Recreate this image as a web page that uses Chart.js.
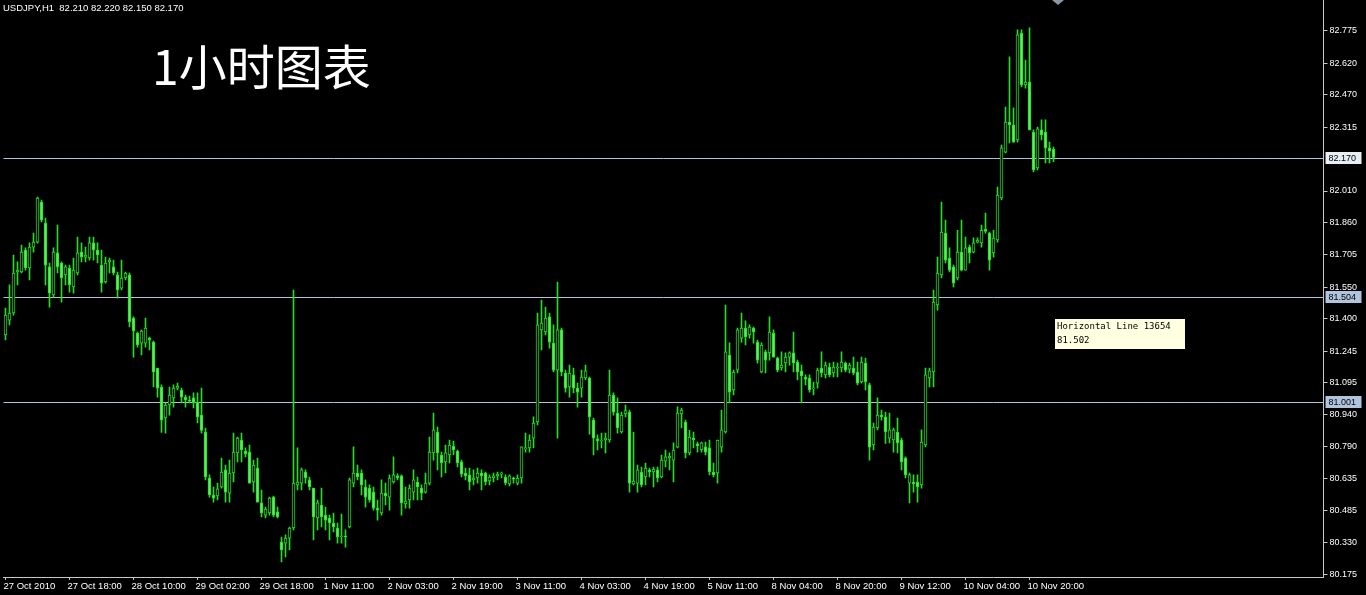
<!DOCTYPE html>
<html>
<head>
<meta charset="utf-8">
<script src="https://cdn.jsdelivr.net/npm/chart.js@4.4.1/dist/chart.umd.min.js"></script>
<style>
html, body { margin: 0; padding: 0; background: #000; overflow: hidden; }
#wrap { position: relative; width: 1366px; height: 595px; }
</style>
</head>
<body>
<div id="wrap"><canvas id="mtChart"></canvas></div>
<script>
// USDJPY H1 candles (one value per hour bar)
const opens = [
  81.322, 81.393, 81.427, 81.623, 81.623, 81.728, 81.642, 81.742, 81.766, 81.957,
  81.857, 81.647, 81.513, 81.714, 81.666, 81.609, 81.642, 81.551, 81.618, 81.718,
  81.694, 81.690, 81.762, 81.728, 81.656, 81.575, 81.671, 81.647, 81.609, 81.546,
  81.594, 81.609, 81.403, 81.331, 81.283, 81.283, 81.307, 81.288, 81.164, 81.073,
  80.925, 80.987, 81.021, 81.068, 81.059, 81.025, 81.011, 81.021, 81.001, 80.939,
  80.858, 80.638, 80.557, 80.552, 80.595, 80.677, 80.566, 80.662, 80.758, 80.820,
  80.767, 80.762, 80.619, 80.686, 80.519, 80.461, 80.471, 80.547, 80.476, 80.332,
  80.327, 80.351, 80.399, 80.605, 80.614, 80.667, 80.629, 80.590, 80.447, 80.509,
  80.461, 80.447, 80.423, 80.399, 80.356, 80.361, 80.404, 80.614, 80.662, 80.662,
  80.595, 80.590, 80.571, 80.494, 80.471, 80.566, 80.547, 80.619, 80.648, 80.648,
  80.514, 80.533, 80.571, 80.619, 80.590, 80.571, 80.614, 80.758, 80.858, 80.748,
  80.715, 80.748, 80.791, 80.767, 80.715, 80.662, 80.653, 80.629, 80.638, 80.662,
  80.662, 80.624, 80.638, 80.648, 80.657, 80.643, 80.610, 80.638, 80.614, 80.638,
  80.777, 80.782, 80.829, 80.906, 81.346, 81.336, 81.408, 81.283, 81.154, 81.346,
  81.140, 81.073, 81.131, 81.068, 81.068, 81.116, 81.116, 80.915, 80.825, 80.815,
  80.820, 80.820, 81.035, 80.949, 80.858, 80.944, 80.953, 80.610, 80.614, 80.667,
  80.643, 80.677, 80.667, 80.677, 80.643, 80.719, 80.734, 80.724, 80.786, 80.944,
  80.906, 80.758, 80.829, 80.801, 80.772, 80.787, 80.782, 80.667, 80.662, 80.786,
  80.858, 81.226, 81.059, 81.154, 81.307, 81.355, 81.322, 81.355, 81.288, 81.145,
  81.241, 81.236, 81.331, 81.211, 81.164, 81.188, 81.216, 81.236, 81.192, 81.150,
  81.121, 81.116, 81.064, 81.092, 81.164, 81.131, 81.168, 81.140, 81.164, 81.164,
  81.188, 81.159, 81.164, 81.145, 81.097, 81.188, 81.083, 80.796, 80.877, 80.939,
  80.930, 80.829, 80.820, 80.858, 80.820, 80.734, 80.614, 80.619, 80.619, 80.605,
  80.796, 81.116, 81.145, 81.465, 81.609, 81.809, 81.690, 81.647, 81.594, 81.718,
  81.632, 81.742, 81.718, 81.766, 81.762, 81.827, 81.809, 81.714, 81.776, 81.977,
  82.196, 82.340, 82.326, 82.254, 82.765, 82.517, 82.531, 82.292, 82.120, 82.302,
  82.292, 82.216, 82.210
];
const highs = [
  81.451, 81.561, 81.704, 81.671, 81.752, 81.738, 81.762, 81.809, 81.981, 81.967,
  81.881, 81.666, 81.738, 81.847, 81.671, 81.656, 81.656, 81.690, 81.790, 81.762,
  81.742, 81.790, 81.790, 81.762, 81.728, 81.694, 81.690, 81.680, 81.623, 81.680,
  81.623, 81.618, 81.408, 81.336, 81.346, 81.403, 81.312, 81.293, 81.164, 81.083,
  80.997, 81.073, 81.083, 81.092, 81.068, 81.035, 81.030, 81.045, 81.045, 81.068,
  80.877, 80.653, 80.595, 80.614, 80.734, 80.700, 80.724, 80.853, 80.834, 80.853,
  80.782, 80.796, 80.724, 80.734, 80.581, 80.499, 80.547, 80.552, 80.499, 80.356,
  80.366, 80.404, 81.537, 80.782, 80.686, 80.677, 80.643, 80.590, 80.533, 80.590,
  80.499, 80.461, 80.471, 80.423, 80.466, 80.390, 80.638, 80.787, 80.700, 80.677,
  80.629, 80.605, 80.595, 80.533, 80.629, 80.614, 80.653, 80.739, 80.658, 80.653,
  80.595, 80.605, 80.677, 80.643, 80.605, 80.662, 80.834, 80.949, 80.882, 80.762,
  80.796, 80.820, 80.815, 80.772, 80.724, 80.686, 80.686, 80.677, 80.686, 80.677,
  80.667, 80.653, 80.662, 80.667, 80.667, 80.653, 80.653, 80.643, 80.653, 80.787,
  80.853, 80.844, 80.930, 81.427, 81.489, 81.455, 81.427, 81.370, 81.575, 81.355,
  81.154, 81.178, 81.164, 81.092, 81.154, 81.178, 81.121, 80.925, 80.844, 80.853,
  80.853, 81.154, 81.045, 81.021, 80.953, 80.987, 80.963, 80.858, 80.700, 80.691,
  80.710, 80.686, 80.691, 80.691, 80.748, 80.772, 80.758, 80.806, 80.978, 80.973,
  80.915, 80.866, 80.858, 80.810, 80.810, 80.810, 80.820, 80.710, 80.820, 80.963,
  81.465, 81.284, 81.154, 81.355, 81.427, 81.389, 81.370, 81.360, 81.298, 81.284,
  81.250, 81.408, 81.346, 81.216, 81.241, 81.236, 81.241, 81.336, 81.202, 81.178,
  81.131, 81.131, 81.097, 81.164, 81.241, 81.192, 81.188, 81.192, 81.188, 81.241,
  81.192, 81.188, 81.216, 81.192, 81.216, 81.211, 81.092, 80.901, 81.021, 80.963,
  80.953, 80.949, 80.877, 80.925, 80.829, 80.739, 80.662, 80.653, 80.653, 80.868,
  81.164, 81.164, 81.537, 81.694, 81.957, 81.871, 81.738, 81.656, 81.822, 81.871,
  81.790, 81.752, 81.786, 81.786, 81.847, 81.905, 81.814, 81.822, 82.029, 82.230,
  82.411, 82.651, 82.407, 82.780, 82.780, 82.636, 82.790, 82.302, 82.316, 82.350,
  82.350, 82.244, 82.220
];
const lows = [
  81.298, 81.370, 81.417, 81.561, 81.618, 81.632, 81.585, 81.718, 81.761, 81.862,
  81.561, 81.455, 81.503, 81.618, 81.479, 81.561, 81.527, 81.522, 81.609, 81.671,
  81.671, 81.680, 81.680, 81.666, 81.527, 81.570, 81.618, 81.609, 81.498, 81.537,
  81.585, 81.360, 81.216, 81.264, 81.226, 81.264, 81.250, 81.073, 81.025, 80.856,
  80.853, 80.939, 80.977, 81.059, 80.997, 80.977, 80.997, 80.973, 80.901, 80.853,
  80.629, 80.547, 80.523, 80.533, 80.590, 80.523, 80.523, 80.619, 80.715, 80.715,
  80.739, 80.614, 80.571, 80.523, 80.452, 80.447, 80.461, 80.452, 80.447, 80.237,
  80.261, 80.294, 80.390, 80.581, 80.581, 80.614, 80.581, 80.342, 80.390, 80.404,
  80.390, 80.342, 80.380, 80.327, 80.327, 80.308, 80.399, 80.595, 80.629, 80.557,
  80.499, 80.523, 80.485, 80.437, 80.461, 80.509, 80.485, 80.614, 80.629, 80.461,
  80.494, 80.494, 80.533, 80.533, 80.533, 80.566, 80.605, 80.724, 80.677, 80.643,
  80.662, 80.710, 80.748, 80.691, 80.643, 80.629, 80.581, 80.605, 80.614, 80.581,
  80.605, 80.605, 80.619, 80.629, 80.638, 80.605, 80.600, 80.614, 80.605, 80.614,
  80.762, 80.762, 80.782, 80.892, 81.250, 81.322, 81.259, 81.145, 80.829, 81.126,
  81.049, 81.025, 81.045, 80.977, 81.025, 81.107, 80.848, 80.748, 80.772, 80.782,
  80.758, 80.810, 80.939, 80.853, 80.853, 80.930, 80.571, 80.605, 80.571, 80.595,
  80.605, 80.643, 80.595, 80.619, 80.638, 80.691, 80.677, 80.619, 80.782, 80.877,
  80.734, 80.748, 80.782, 80.762, 80.762, 80.748, 80.653, 80.643, 80.614, 80.762,
  80.853, 80.997, 81.035, 81.140, 81.288, 81.274, 81.307, 81.283, 81.187, 81.140,
  81.140, 81.202, 81.216, 81.145, 81.154, 81.145, 81.178, 81.145, 81.107, 80.997,
  81.083, 81.049, 81.035, 81.068, 81.121, 81.116, 81.121, 81.121, 81.121, 81.145,
  81.145, 81.140, 81.131, 81.083, 81.092, 81.059, 80.724, 80.772, 80.868, 80.915,
  80.804, 80.806, 80.762, 80.758, 80.677, 80.638, 80.519, 80.571, 80.523, 80.590,
  80.787, 81.073, 81.073, 81.441, 81.594, 81.666, 81.623, 81.551, 81.585, 81.628,
  81.632, 81.666, 81.714, 81.762, 81.742, 81.809, 81.632, 81.694, 81.766, 81.967,
  82.192, 82.240, 82.244, 82.244, 82.507, 82.502, 82.302, 82.101, 82.111, 82.254,
  82.144, 82.144, 82.150
];
const closes = [
  81.417, 81.427, 81.618, 81.632, 81.718, 81.642, 81.742, 81.766, 81.976, 81.871,
  81.656, 81.522, 81.718, 81.647, 81.594, 81.647, 81.561, 81.632, 81.714, 81.694,
  81.704, 81.762, 81.728, 81.704, 81.570, 81.666, 81.680, 81.618, 81.537, 81.594,
  81.618, 81.384, 81.341, 81.274, 81.341, 81.355, 81.298, 81.145, 81.068, 80.915,
  80.987, 81.035, 81.068, 81.078, 81.025, 81.011, 81.006, 80.997, 80.930, 80.866,
  80.643, 80.557, 80.542, 80.586, 80.667, 80.571, 80.662, 80.762, 80.829, 80.772,
  80.753, 80.614, 80.700, 80.523, 80.471, 80.490, 80.542, 80.461, 80.452, 80.294,
  80.351, 80.399, 80.614, 80.619, 80.677, 80.638, 80.595, 80.452, 80.519, 80.452,
  80.437, 80.423, 80.404, 80.356, 80.361, 80.356, 80.629, 80.662, 80.643, 80.605,
  80.547, 80.533, 80.494, 80.485, 80.566, 80.552, 80.638, 80.653, 80.638, 80.519,
  80.528, 80.590, 80.629, 80.595, 80.566, 80.614, 80.762, 80.868, 80.758, 80.710,
  80.758, 80.796, 80.772, 80.710, 80.657, 80.648, 80.619, 80.638, 80.662, 80.648,
  80.619, 80.643, 80.648, 80.657, 80.662, 80.615, 80.648, 80.633, 80.638, 80.787,
  80.782, 80.820, 80.901, 81.370, 81.379, 81.403, 81.288, 81.154, 81.346, 81.145,
  81.068, 81.140, 81.068, 81.049, 81.121, 81.150, 80.930, 80.829, 80.815, 80.820,
  80.829, 81.035, 80.953, 80.877, 80.939, 80.960, 80.614, 80.624, 80.677, 80.605,
  80.686, 80.667, 80.681, 80.638, 80.724, 80.739, 80.743, 80.772, 80.949, 80.963,
  80.758, 80.834, 80.820, 80.791, 80.806, 80.762, 80.667, 80.653, 80.820, 80.868,
  81.241, 81.049, 81.145, 81.346, 81.355, 81.312, 81.360, 81.336, 81.202, 81.274,
  81.202, 81.336, 81.216, 81.154, 81.178, 81.216, 81.236, 81.188, 81.145, 81.126,
  81.111, 81.059, 81.068, 81.154, 81.140, 81.178, 81.131, 81.168, 81.168, 81.192,
  81.154, 81.178, 81.140, 81.092, 81.192, 81.097, 80.786, 80.882, 80.939, 80.930,
  80.858, 80.868, 80.868, 80.806, 80.715, 80.653, 80.653, 80.610, 80.595, 80.810,
  81.131, 81.150, 81.479, 81.618, 81.814, 81.680, 81.632, 81.570, 81.718, 81.632,
  81.738, 81.714, 81.762, 81.776, 81.822, 81.817, 81.680, 81.785, 81.991, 82.216,
  82.340, 82.326, 82.244, 82.756, 82.517, 82.531, 82.302, 82.111, 82.307, 82.278,
  82.216, 82.201, 82.170
];

// one tick label every 16 hour bars
const tickLabels = [
  '27 Oct 2010', '27 Oct 18:00', '28 Oct 10:00', '29 Oct 02:00', '29 Oct 18:00',
  '1 Nov 11:00', '2 Nov 03:00', '2 Nov 19:00', '3 Nov 11:00', '4 Nov 03:00',
  '4 Nov 19:00', '5 Nov 11:00', '8 Nov 04:00', '8 Nov 20:00', '9 Nov 12:00',
  '10 Nov 04:00', '10 Nov 20:00'
];
const tickStep = 16;
const slotCount = 330; // visible bar slots incl. empty space on the right

const priceTicks = [
  82.775, 82.620, 82.470, 82.315, 82.010, 81.860, 81.705, 81.550, 81.400,
  81.245, 81.095, 80.940, 80.790, 80.635, 80.485, 80.330, 80.175
];
const priceMin = 80.165;
const priceMax = 82.923;

// horizontal lines: bid line + two user lines
const hLines = [82.170, 81.504, 81.001];
const hLineTags = ['82.170', '81.504', '81.001'];

const slotLabels = Array.from({ length: slotCount }, (_, i) =>
  i % tickStep === 0 && tickLabels[i / tickStep] ? tickLabels[i / tickStep] : '');

const GREEN = '#22dd22';
const BEAR_FILL = '#5cee5c';
const AXIS = '#c8c8c8';

const mtPlugin = {
  id: 'mtDecor',
  beforeDatasetsDraw(chart) {
    const { ctx, chartArea, scales } = chart;
    ctx.save();
    ctx.strokeStyle = '#b0c4de';
    ctx.lineWidth = 1;
    hLines.forEach(v => {
      const y = Math.round(scales.y.getPixelForValue(v)) + 0.5;
      ctx.beginPath();
      ctx.moveTo(chartArea.left, y);
      ctx.lineTo(chartArea.right, y);
      ctx.stroke();
    });
    ctx.restore();
  },
  afterDraw(chart) {
    const { ctx, chartArea, scales } = chart;
    ctx.save();
    // price tags on the right axis
    ctx.font = '9px "Liberation Sans", Arial, sans-serif';
    ctx.textBaseline = 'middle';
    hLines.forEach((v, k) => {
      const y = Math.round(scales.y.getPixelForValue(v));
      ctx.fillStyle = k === 0 ? '#e8eef5' : '#b0c4de';
      ctx.fillRect(chartArea.right + 2, y - 6, 36, 12);
      ctx.fillStyle = '#000';
      ctx.textAlign = 'left';
      ctx.fillText(hLineTags[k], chartArea.right + 5, y + 0.5);
    });

    // symbol header
    ctx.fillStyle = '#ffffff';
    ctx.font = '9.5px "Liberation Sans", Arial, sans-serif';
    ctx.textBaseline = 'alphabetic';
    ctx.fillText('USDJPY,H1  82.210 82.220 82.150 82.170', 3, 11);

    // title
    ctx.font = '48px "Noto Sans CJK SC", sans-serif';
    ctx.fillText('1小时图表', 152, 85);

    // object tooltip
    ctx.fillStyle = '#ffffe1';
    ctx.fillRect(1055, 319, 130, 30);
    ctx.fillStyle = '#000';
    ctx.font = '9px "DejaVu Sans Mono", monospace';
    ctx.fillText('Horizontal Line 13654', 1057, 329);
    ctx.fillText('81.502', 1057, 343);

    // small marker at the top edge
    ctx.fillStyle = '#8a96a6';
    ctx.beginPath();
    ctx.moveTo(1052, 0);
    ctx.lineTo(1064, 0);
    ctx.lineTo(1058, 5);
    ctx.closePath();
    ctx.fill();
    ctx.restore();
  }
};

const ctx = document.getElementById('mtChart').getContext('2d');
const mtChart = new Chart(ctx, {
  type: 'bar',
  data: {
    labels: slotLabels,
    datasets: [
      {
        // candle bodies (drawn on top)
        data: opens.map((o, i) => [o, closes[i]]),
        backgroundColor: opens.map((o, i) => closes[i] >= o ? '#000000' : BEAR_FILL),
        borderColor: GREEN,
        borderWidth: 1,
        borderSkipped: false,
        barThickness: 3,
        minBarLength: 1,
        grouped: false
      },
      {
        // high-low wicks
        data: lows.map((l, i) => [l, highs[i]]),
        backgroundColor: GREEN,
        borderWidth: 0,
        barThickness: 1,
        grouped: false
      }
    ]
  },
  options: {
    responsive: true,
    maintainAspectRatio: false,
    animation: false,
    devicePixelRatio: 1,
    layout: { padding: { left: 3.5, right: 0, top: 0, bottom: 0 } },
    plugins: {
      legend: { display: false },
      tooltip: { enabled: false }
    },
    scales: {
      x: {
        type: 'category',
        offset: true,
        afterFit(s) { s.height = 18; s.paddingLeft = 0; s.paddingRight = 0; },
        afterBuildTicks(s) { s.ticks = tickLabels.map((_, k) => ({ value: k * tickStep })); },
        grid: { drawOnChartArea: false, offset: false, color: AXIS, tickLength: 3 },
        border: { color: AXIS },
        ticks: {
          color: '#ffffff',
          autoSkip: false,
          maxRotation: 0,
          align: 'start',
          labelOffset: -2,
          padding: 1,
          font: { family: '"Liberation Sans", Arial, sans-serif', size: 9.5 }
        }
      },
      y: {
        position: 'right',
        min: priceMin,
        max: priceMax,
        afterFit(s) { s.width = 42.5; s.paddingTop = 0; s.paddingBottom = 0; },
        afterBuildTicks(s) { s.ticks = priceTicks.map(v => ({ value: v })); },
        grid: { drawOnChartArea: false, color: AXIS, tickLength: 4 },
        border: { color: AXIS },
        ticks: {
          color: '#ffffff',
          autoSkip: false,
          padding: 2,
          font: { family: '"Liberation Sans", Arial, sans-serif', size: 9 },
          callback: v => Number(v).toFixed(3)
        }
      }
    }
  },
  plugins: [mtPlugin]
});
</script>
</body>
</html>
